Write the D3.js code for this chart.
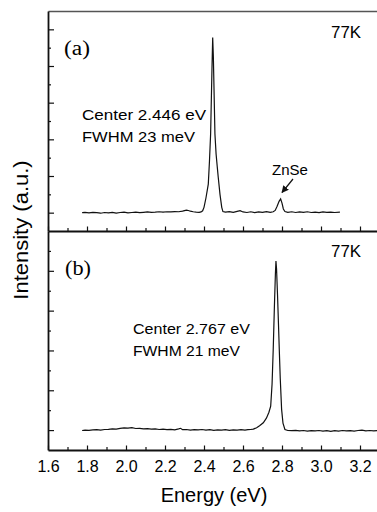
<!DOCTYPE html>
<html>
<head>
<meta charset="utf-8">
<script src="https://cdn.jsdelivr.net/npm/d3@7"></script>
<style>
  body { margin: 0; background: #fff; }
  svg { display: block; }
  text { font-family: "Liberation Sans", Arial, sans-serif; fill: #000; }
</style>
</head>
<body>
<svg id="chart" width="377" height="512"></svg>
<script>
// panel (a) spectrum, intensity in arbitrary units
const energyA = [1.775,1.79,1.81,1.83,1.85,1.87,1.89,1.91,1.93,1.95,1.97,1.99,2.01,2.03,2.05,2.07,2.09,2.11,2.13,2.15,2.17,2.19,2.21,2.23,2.25,2.27,2.29,2.30,2.31,2.32,2.33,2.345,2.36,2.375,2.385,2.393,2.400,2.410,2.422,2.428,2.434,2.441,2.4446,2.448,2.452,2.456,2.462,2.468,2.473,2.482,2.491,2.497,2.51,2.53,2.55,2.57,2.585,2.60,2.62,2.64,2.66,2.68,2.70,2.72,2.74,2.755,2.765,2.775,2.785,2.793,2.800,2.807,2.815,2.83,2.85,2.87,2.89,2.91,2.93,2.95,2.97,2.99,3.01,3.03,3.05,3.07,3.097];
const intensityA = [0.00,0.02,-0.01,0.02,0.00,-0.03,0.01,-0.01,0.02,-0.02,0.01,0.03,-0.01,0.01,0.03,0.00,0.02,0.04,0.02,0.03,0.05,0.03,0.05,0.04,0.06,0.05,0.08,0.11,0.14,0.12,0.08,0.05,0.03,0.02,0.04,0.10,0.29,0.80,1.56,2.80,4.30,7.90,9.55,8.50,6.40,4.30,3.20,2.50,1.93,1.00,0.29,0.06,0.03,0.06,0.02,0.07,0.11,0.04,0.01,0.05,0.00,0.04,0.02,0.06,0.02,0.05,0.12,0.35,0.62,0.75,0.52,0.20,0.06,0.02,0.05,0.01,0.04,0.02,0.05,0.01,0.03,0.00,0.04,0.02,0.03,0.01,0.03];

// panel (b) spectrum
const energyB = [1.775,1.79,1.81,1.83,1.85,1.87,1.89,1.91,1.93,1.95,1.97,1.99,2.01,2.03,2.05,2.07,2.09,2.11,2.13,2.15,2.17,2.19,2.21,2.23,2.25,2.27,2.28,2.29,2.31,2.33,2.35,2.37,2.39,2.41,2.43,2.45,2.47,2.49,2.51,2.53,2.55,2.57,2.59,2.61,2.625,2.64,2.653,2.67,2.685,2.704,2.72,2.733,2.742,2.749,2.755,2.761,2.766,2.769,2.772,2.777,2.782,2.786,2.791,2.798,2.805,2.815,2.83,2.85,2.87,2.89,2.91,2.93,2.95,2.97,2.99,3.01,3.03,3.05,3.07,3.09,3.11,3.13,3.15,3.17,3.19,3.21,3.23,3.25,3.27,3.29,3.30];
const intensityB = [-0.02,0.00,-0.01,0.01,0.02,0.00,0.03,0.04,0.06,0.05,0.09,0.11,0.10,0.12,0.08,0.09,0.06,0.07,0.05,0.06,0.03,0.05,0.02,0.04,0.01,0.06,0.09,0.02,0.03,0.00,0.02,0.01,0.03,0.00,0.02,-0.01,0.01,0.00,0.02,-0.01,0.01,0.00,0.02,0.00,0.02,0.03,0.05,0.12,0.22,0.37,0.60,0.90,1.20,2.30,4.06,6.20,7.80,8.49,8.10,6.80,5.30,4.06,2.60,1.04,0.35,0.03,-0.02,-0.03,-0.01,-0.04,-0.02,-0.05,-0.03,-0.04,-0.02,-0.05,-0.03,-0.06,-0.03,-0.05,-0.02,-0.04,-0.03,-0.05,-0.02,0.00,-0.04,-0.02,-0.04,-0.03,-0.02];

const xMajorTicks = [1.6, 1.8, 2.0, 2.2, 2.4, 2.6, 2.8, 3.0, 3.2];
const xMinorTicks = [1.7, 1.9, 2.1, 2.3, 2.5, 2.7, 2.9, 3.1, 3.3];
const yMajorTicksA = [0, 2, 4, 6, 8, 10];
const yMinorTicksA = [1, 3, 5, 7, 9];
const yMajorTicksB = [0, 2, 4, 6, 8];
const yMinorTicksB = [1, 3, 5, 7, 9];

const svg = d3.select('#chart');
const plotLeft = 48, plotRight = 377, plotTop = 11, plotMid = 231, plotBottom = 450;

const x = d3.scaleLinear().domain([1.6, 3.3]).range([plotLeft, 379.5]);
const yA = d3.scaleLinear().domain([-1, 11]).range([plotMid, plotTop]);
const yB = d3.scaleLinear().domain([-1, 10]).range([plotBottom, plotMid]);

const defs = svg.append('defs');
defs.append('clipPath').attr('id', 'plot')
  .append('rect')
  .attr('x', plotLeft).attr('y', plotTop)
  .attr('width', plotRight - plotLeft).attr('height', plotBottom - plotTop);

const zipA = energyA.map((e, i) => [e, intensityA[i]]);
const zipB = energyB.map((e, i) => [e, intensityB[i]]);

// spectra
const plot = svg.append('g').attr('clip-path', 'url(#plot)');
plot.append('path')
  .datum(zipA)
  .attr('fill', 'none')
  .attr('stroke', '#111')
  .attr('stroke-width', 1.2)
  .attr('d', d3.line().x(d => x(d[0])).y(d => yA(d[1])));
plot.append('path')
  .datum(zipB)
  .attr('fill', 'none')
  .attr('stroke', '#111')
  .attr('stroke-width', 1.2)
  .attr('d', d3.line().x(d => x(d[0])).y(d => yB(d[1])));

function styleAxis(g, width, color) {
  g.selectAll('path, line').attr('stroke', color || '#111');
  g.select('.domain').attr('stroke-width', width);
  g.selectAll('.tick line').attr('stroke-width', 1.2);
}

// top frame line
svg.append('g')
  .attr('transform', `translate(0,${plotTop})`)
  .call(d3.axisTop(x).tickValues([]).tickSizeOuter(0))
  .call(g => styleAxis(g, 1.5, '#555'));

// divider = bottom axis of panel (a)
svg.append('g')
  .attr('transform', `translate(0,${plotMid})`)
  .call(d3.axisBottom(x).tickValues(xMinorTicks).tickSize(-3).tickFormat(''))
  .call(g => g.select('.domain').remove())
  .call(g => styleAxis(g, 1.5));
svg.append('g')
  .attr('transform', `translate(0,${plotMid})`)
  .call(d3.axisBottom(x).tickValues(xMajorTicks).tickSize(-4.5).tickSizeOuter(0).tickFormat(''))
  .call(g => styleAxis(g, 2));

// bottom axis of panel (b)
svg.append('g')
  .attr('transform', `translate(0,${plotBottom})`)
  .call(d3.axisBottom(x).tickValues(xMinorTicks).tickSize(-3).tickFormat(''))
  .call(g => g.select('.domain').remove())
  .call(g => styleAxis(g, 1.5));
svg.append('g')
  .attr('transform', `translate(0,${plotBottom})`)
  .call(d3.axisBottom(x).tickValues(xMajorTicks).tickSize(-4.5).tickSizeOuter(0).tickFormat(d3.format('.1f')))
  .call(g => styleAxis(g, 2))
  .call(g => g.selectAll('.tick text')
    .attr('font-size', 16)
    .attr('fill', '#000')
    .attr('dy', 0)
    .attr('y', 21.5));

// left axes
[[yA, yMajorTicksA, yMinorTicksA], [yB, yMajorTicksB, yMinorTicksB]].forEach(([y, major, minor]) => {
  svg.append('g')
    .attr('transform', `translate(${plotLeft},0)`)
    .call(d3.axisLeft(y).tickValues(minor).tickSize(-3).tickFormat(''))
    .call(g => g.select('.domain').remove())
    .call(g => styleAxis(g, 1.5));
  svg.append('g')
    .attr('transform', `translate(${plotLeft},0)`)
    .call(d3.axisLeft(y).tickValues(major).tickSize(-6).tickSizeOuter(0).tickFormat(''))
    .call(g => styleAxis(g, 1.8));
});

// annotation text; width stretches the glyphs like the scanned original
function label(tx, ty, str, size, width, opts) {
  opts = opts || {};
  const t = svg.append('text')
    .attr('x', tx)
    .attr('y', ty)
    .attr('font-size', size)
    .attr('text-anchor', opts.anchor || 'start')
    .text(str);
  if (width) t.attr('textLength', width).attr('lengthAdjust', 'spacingAndGlyphs');
  if (opts.serif) t.style('font-family', '"Liberation Serif", "Times New Roman", serif');
  return t;
}

label(64, 55, '(a)', 20, 26, { serif: true });
label(65, 275, '(b)', 20, 26, { serif: true });
label(331, 37.5, '77K', 16, 30);
label(331, 257, '77K', 16, 30);
label(82, 119.5, 'Center 2.446 eV', 15.5, 124);
label(82, 141.5, 'FWHM 23 meV', 15.5, 113);
label(133, 333.5, 'Center 2.767 eV', 15.5, 117);
label(133, 355.5, 'FWHM 21 meV', 15.5, 107);
label(290, 175, 'ZnSe', 15, null, { anchor: 'middle' });

// ZnSe arrow
defs.append('marker')
  .attr('id', 'arrow')
  .attr('viewBox', '0 0 10 10')
  .attr('refX', 9).attr('refY', 5)
  .attr('markerWidth', 6).attr('markerHeight', 6)
  .attr('orient', 'auto')
  .append('path').attr('d', 'M0,0L10,5L0,10z').attr('fill', '#111');
svg.append('line')
  .attr('x1', 293).attr('y1', 179)
  .attr('x2', x(2.8)).attr('y2', yA(1.1))
  .attr('stroke', '#111').attr('stroke-width', 1.2)
  .attr('marker-end', 'url(#arrow)');

// axis titles
svg.append('text')
  .attr('transform', 'translate(214,502)')
  .attr('text-anchor', 'middle')
  .attr('font-size', 20)
  .text('Energy (eV)');
svg.append('text')
  .attr('transform', 'translate(28,230) rotate(-90) scale(1.1,1)')
  .attr('text-anchor', 'middle')
  .attr('font-size', 20)
  .text('Intensity (a.u.)');
</script>
</body>
</html>
